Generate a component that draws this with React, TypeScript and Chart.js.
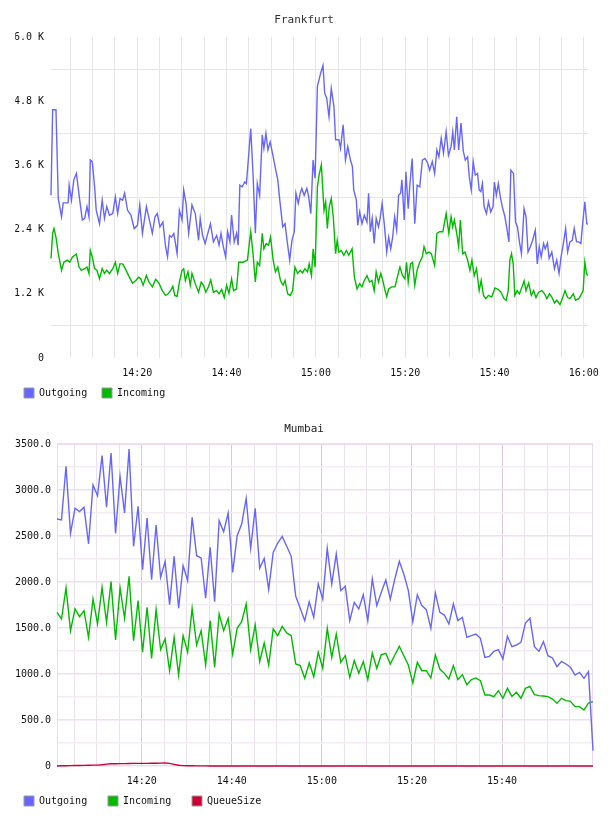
import React, { useEffect, useRef } from 'react';
import { Chart, registerables } from 'chart.js';

Chart.register(...registerables);

const FONT = "'DejaVu Sans Mono', monospace";
const BLUE = '#6666ff';
const GREEN = '#00bb00';
const RED = '#cc0033';

// ---------- Frankfurt (minutes after 14:00) ----------
const frankfurtOutgoingMin = [
  0.7, 1.07, 1.81, 2.33, 3.06, 3.43, 4.54, 4.76, 5.28, 5.8, 6.39, 7.13, 7.72, 8.24, 8.76, 9.2, 9.5, 9.94, 10.46, 10.83,
  11.56, 12.16, 12.67, 13.19, 13.78, 14.52, 15.11, 15.63, 16.15, 16.74, 17.18, 17.85, 18.59, 19.33, 20.06, 20.58, 21.17, 22.06, 22.65, 23.39,
  23.98, 24.5, 25.09, 25.75, 26.35, 26.79, 27.23, 27.68, 28.2, 28.93, 29.45, 30.04, 30.41, 30.93, 31.52, 32.26, 33.0, 33.74, 34.11, 34.63,
  35.22, 35.81, 36.4, 37.06, 37.8, 38.32, 38.76, 39.28, 39.8, 40.24, 40.76, 41.13, 41.72, 42.24, 42.61, 42.98, 43.49, 44.09, 44.45, 44.82,
  45.42, 45.93, 46.45, 46.89, 47.41, 48.0, 48.37, 48.82, 49.26, 49.78, 50.37, 50.96, 51.48, 51.92, 52.59, 53.1, 53.55, 54.14, 54.65, 55.17,
  55.54, 56.06, 56.5, 56.87, 57.39, 57.98, 58.35, 58.87, 59.38, 59.83, 60.35, 61.09, 61.6, 61.98, 62.42, 62.94, 63.45, 64.05, 64.42, 65.15,
  65.52, 66.11, 66.63, 67.15, 67.74, 68.18, 68.48, 69.07, 69.37, 69.81, 70.33, 70.85, 71.44, 71.81, 72.18, 72.62, 73.06, 73.51, 74.02, 74.39,
  74.84, 75.35, 75.87, 76.31, 76.76, 77.2, 77.64, 78.09, 78.53, 78.98, 79.27, 79.79, 80.16, 80.68, 81.04, 81.56, 82.15, 82.67, 83.26, 83.85,
  84.44, 85.04, 85.48, 86.07, 86.59, 87.1, 87.55, 88.07, 88.58, 89.17, 89.69, 90.28, 90.65, 91.02, 91.54, 91.98, 92.5, 93.02, 93.46, 93.98,
  94.35, 94.79, 95.23, 95.68, 96.2, 96.57, 96.93, 97.3, 97.67, 98.19, 98.64, 99.15, 99.67, 99.97, 100.41, 100.85, 101.37, 101.74, 102.33, 102.77,
  103.22, 103.66, 104.25, 104.7, 105.14, 105.58, 106.03, 106.62, 107.06, 107.5, 108.02, 108.54, 109.13, 109.57, 110.02, 110.46, 110.98, 111.35, 111.86, 112.24,
  112.83, 113.42, 113.93, 114.45, 114.9, 115.41, 115.93, 116.37, 116.89, 117.41, 117.85, 118.37, 118.89, 119.33, 119.7, 120.22, 120.66, 120.9,
];
const frankfurtOutgoing = [
  3040, 4640, 4640, 2980, 2640, 2900, 2900, 3230, 2950, 3330, 3450, 2950, 2580, 2610, 2830, 2640, 3700, 3670, 3200, 2760,
  2510, 2950, 2610, 2830, 2670, 2700, 3010, 2700, 2980, 2950, 3080, 2760, 2670, 2420, 2480, 2860, 2330, 2830, 2610, 2330,
  2640, 2700, 2450, 2540, 2080, 1890, 2290, 2260, 2330, 1950, 2760, 2580, 3140, 2890, 2330, 2860, 2700, 2200, 2610, 2290,
  2140, 2330, 2510, 2170, 2290, 2110, 2330, 2080, 1890, 2360, 2170, 2670, 2170, 2330, 2110, 3230, 3200, 3290, 3260, 3640,
  4290, 3450, 2330, 3260, 3040, 4170, 3920, 4200, 3890, 4040, 3790, 3540, 3330, 2950, 2450, 2510, 2200, 1830, 2200, 2360,
  3080, 2890, 3080, 3170, 3040, 3170, 3040, 2700, 3700, 3360, 5080, 5330, 5470, 4950, 4860, 4510, 5040, 4700, 4080, 4080,
  3920, 4360, 3700, 3950, 3700, 3580, 3140, 2950, 2480, 2730, 2510, 2670, 2540, 3080, 2360, 2610, 2140, 2610, 2450, 2610,
  2890, 2480, 1980, 2260, 2040, 2260, 2640, 2390, 3040, 3080, 3330, 2580, 3480, 2790, 3230, 3730, 2510, 3230, 3200, 3700,
  3730, 3640, 3510, 3670, 3450, 3890, 3760, 4110, 3830, 4230, 3790, 3950, 4230, 3890, 4510, 3890, 4390, 3860, 3700, 3760,
  3390, 3140, 3670, 3420, 3450, 3140, 3110, 3260, 2830, 2700, 2920, 2730, 2830, 3290, 3040, 3260, 2980, 2830, 2640, 2420,
  2170, 3510, 3450, 2540, 2450, 2170, 1950, 2790, 2640, 1980, 2080, 2200, 2390, 1760, 2080, 1890, 2140, 2040, 2150, 1860,
  1980, 1670, 1830, 1580, 1890, 2140, 2420, 1980, 2170, 2200, 2420, 2170, 2170, 2140, 2480, 2920, 2510, 2500,
];
const frankfurtIncomingMin = [
  0.7, 1.07, 1.37, 1.81, 2.33, 3.06, 3.58, 4.32, 4.91, 5.5, 6.39, 6.98, 7.5, 8.24, 8.76, 9.2, 9.5, 9.94, 10.46, 10.97,
  11.56, 12.16, 12.67, 13.19, 13.78, 14.52, 15.11, 15.63, 16.15, 16.74, 17.33, 18.07, 18.96, 19.69, 20.29, 20.8, 21.32, 22.06, 22.65, 23.39,
  24.13, 24.87, 25.61, 26.35, 26.94, 27.46, 27.97, 28.42, 28.93, 29.45, 30.04, 30.41, 30.78, 31.37, 31.89, 32.26, 33.0, 33.74, 34.33, 34.85,
  35.36, 35.95, 36.47, 37.06, 37.8, 38.32, 38.91, 39.5, 40.02, 40.54, 41.13, 41.57, 42.24, 42.75, 43.72, 44.68, 45.42, 45.93, 46.45, 46.89,
  47.41, 48.0, 48.37, 48.89, 49.41, 49.85, 50.44, 50.96, 51.48, 52.07, 52.66, 53.1, 53.69, 54.28, 54.8, 55.32, 55.91, 56.5, 57.02, 57.54,
  58.13, 58.5, 59.02, 59.39, 59.83, 60.35, 60.72, 61.23, 61.83, 62.2, 62.57, 63.01, 63.45, 63.9, 64.42, 64.78, 65.15, 65.67, 66.26, 66.85,
  67.37, 68.11, 68.63, 69.22, 69.81, 70.33, 70.85, 71.44, 72.03, 72.55, 73.06, 73.51, 74.02, 74.54, 74.98, 75.5, 75.87, 76.31, 76.98, 77.72,
  78.24, 78.83, 79.42, 79.94, 80.31, 80.68, 81.19, 81.64, 82.15, 82.67, 83.26, 83.85, 84.22, 84.74, 85.33, 85.85, 86.59, 87.1, 87.7, 88.44,
  89.17, 89.77, 90.28, 90.65, 91.02, 91.54, 91.98, 92.35, 92.87, 93.39, 93.98, 94.5, 94.94, 95.46, 95.97, 96.57, 97.01, 97.53, 98.05, 98.64,
  99.37, 100.11, 100.85, 101.44, 102.11, 102.63, 103.07, 103.44, 103.81, 104.18, 104.55, 105.07, 105.58, 106.17, 106.62, 107.06, 107.65, 108.24, 108.76, 109.28,
  109.87, 110.61, 111.2, 111.72, 112.31, 112.83, 113.42, 113.93, 114.67, 115.19, 115.78, 116.37, 116.89, 117.63, 118.15, 118.89, 119.48, 119.85, 120.22, 120.59,
  120.9,
];
const frankfurtIncoming = [
  1860, 2330, 2420, 2260, 1950, 1640, 1790, 1830, 1790, 1890, 1940, 1700, 1640, 1670, 1700, 1580, 2010, 1890, 1670, 1640,
  1480, 1670, 1580, 1640, 1580, 1670, 1790, 1580, 1760, 1760, 1670, 1540, 1400, 1450, 1510, 1480, 1360, 1540, 1420, 1330,
  1470, 1400, 1260, 1170, 1200, 1260, 1340, 1170, 1150, 1420, 1640, 1670, 1450, 1610, 1360, 1580, 1390, 1230, 1420, 1360,
  1230, 1330, 1460, 1230, 1260, 1200, 1280, 1130, 1360, 1210, 1480, 1260, 1290, 1790, 1790, 1830, 2360, 1950, 1420, 1790,
  1730, 2330, 2040, 2140, 2110, 2260, 1830, 1610, 1700, 1450, 1360, 1450, 1200, 1170, 1260, 1700, 1580, 1640, 1590, 1670,
  1610, 1760, 1540, 2040, 1700, 3200, 3420, 3610, 2760, 2920, 2420, 2830, 2980, 2640, 1950, 2200, 1980, 2010, 1920, 2010,
  1920, 2040, 1510, 1290, 1390, 1330, 1450, 1540, 1420, 1450, 1260, 1610, 1420, 1580, 1450, 1260, 1150, 1290, 1330, 1330,
  1510, 1700, 1540, 1480, 1790, 1420, 1760, 1790, 1360, 1640, 1790, 1890, 2080, 1950, 1980, 1950, 1730, 2330, 2360, 2360,
  2700, 2330, 2640, 2450, 2580, 2330, 2080, 2580, 1950, 1980, 1830, 1640, 1830, 1540, 1670, 1260, 1450, 1170, 1110, 1170,
  1140, 1310, 1280, 1230, 1110, 1080, 1260, 1830, 1950, 1760, 1170, 1260, 1200, 1330, 1440, 1260, 1400, 1170, 1260, 1130,
  1230, 1260, 1200, 1110, 1200, 1140, 1030, 1080, 1000, 1110, 1260, 1130, 1110, 1200, 1080, 1110, 1200, 1260, 1790, 1580,
  1540,
];

// ---------- Mumbai (one sample per minute) ----------
const mumbaiStartMin = 1.2;
const mumbaiStepMin = 1;
const mumbaiOutgoing = [
  2685, 2674, 3257, 2529, 2801, 2765, 2812, 2413, 3054, 2938,
  3373, 2812, 3402, 2529, 3149, 2750, 3446, 2388, 2822, 2134,
  2696, 2025, 2620, 2051, 2221, 1754, 2279, 1714, 2178, 2015,
  2703, 2286, 2261, 1823, 2377, 1786, 2667, 2547, 2750, 2105,
  2504, 2630, 2909, 2366, 2801, 2149, 2257, 1917, 2322, 2424,
  2496, 2388, 2279, 1844, 1714, 1580, 1786, 1616, 1978, 1815,
  2366, 1978, 2304, 1906, 1953, 1580, 1779, 1707, 1862, 1580,
  2033, 1743, 1888, 2022, 1815, 2033, 2225, 2087, 1906, 1569,
  1862, 1743, 1699, 1496, 1881, 1670, 1641, 1544, 1761, 1580,
  1616, 1399, 1417, 1435, 1388, 1181, 1192, 1246, 1265, 1163,
  1410, 1297, 1315, 1344, 1554, 1605, 1297, 1246, 1352, 1199,
  1174, 1080, 1138, 1109, 1073, 989, 1018, 953, 1025, 167,
];
const mumbaiIncoming = [
  1670, 1598, 1935, 1471, 1707, 1623, 1688, 1399, 1815, 1544,
  1942, 1562, 2004, 1370, 1935, 1605, 2062, 1362, 1797, 1236,
  1725, 1170, 1699, 1265, 1381, 1036, 1399, 989, 1417, 1236,
  1714, 1315, 1471, 1098, 1580, 1073, 1652, 1471, 1605, 1217,
  1496, 1569, 1761, 1265, 1533, 1134, 1337, 1098, 1489, 1417,
  1518, 1446, 1417, 1109, 1091, 953, 1120, 971, 1236, 1062,
  1496, 1181, 1435, 1127, 1199, 964, 1145, 1007, 1134, 939,
  1228, 1062, 1210, 1225, 1109, 1207, 1301, 1199, 1098, 902,
  1127, 1036, 1036, 957, 1207, 1054, 1007, 946, 1091, 939,
  993, 884, 939, 957, 928, 772, 772, 754, 819, 736,
  844, 757, 801, 736, 844, 866, 775, 765, 761, 754,
  728, 681, 736, 710, 703, 645, 645, 609, 685, 699,
];
const mumbaiQueueSize = [
  0, 2, 3, 4, 5, 6, 7, 8, 9, 10,
  14, 20, 24, 25, 26, 26, 27, 28, 28, 29,
  29, 30, 30, 31, 32, 28, 18, 8, 4, 2,
  2, 1, 1, 1, 0, 0, 0, 0, 0, 0,
  0, 0, 0, 0, 0, 0, 0, 0, 0, 0,
  0, 0, 0, 0, 0, 0, 0, 0, 0, 0,
  0, 0, 0, 0, 0, 0, 0, 0, 0, 0,
  0, 0, 0, 0, 0, 0, 0, 0, 0, 0,
  0, 0, 0, 0, 0, 0, 0, 0, 0, 0,
  0, 0, 0, 0, 0, 0, 0, 0, 0, 0,
  0, 0, 0, 0, 0, 0, 0, 0, 0, 0,
  0, 0, 0, 0, 0, 0, 0, 0, 0, 0,
];

const fmtTime = (m: number) => {
  const h = 14 + Math.floor(m / 60);
  const mm = Math.round(m % 60);
  return `${h}:${String(mm).padStart(2, '0')}`;
};

const pairs = (xs: number[], ys: number[]) => xs.map((x, i) => ({ x, y: ys[i] }));
const mumbaiSeries = (ys: number[]) => ys.map((y, i) => ({ x: mumbaiStartMin + i * mumbaiStepMin, y }));

// trailing spaces widen each legend entry so the gap between entries matches
const legendLabels = (padding: number, gap: string) => ({
  boxWidth: 10,
  boxHeight: 10,
  padding,
  color: '#111',
  font: { family: FONT, size: 10 },
  generateLabels: (chart: any) =>
    (Chart as any).defaults.plugins.legend.labels
      .generateLabels(chart)
      .map((l: any) => ({ ...l, text: l.text + gap, strokeStyle: '#999999', lineWidth: 1 })),
});

const lineDs = (label: string, data: any[], color: string) => ({
  label,
  data,
  borderColor: color,
  backgroundColor: color,
  borderWidth: 1.4,
  pointRadius: 0,
  pointHoverRadius: 0,
  tension: 0,
  clip: 3,
});

const frameOf = (color: string) => ({
  id: 'frame',
  beforeDatasetsDraw(chart: any) {
    const { ctx, chartArea: a } = chart;
    ctx.save();
    ctx.strokeStyle = color;
    ctx.lineWidth = 1;
    ctx.strokeRect(Math.round(a.left) + 0.5, Math.round(a.top) + 0.5, Math.round(a.width) - 1, Math.round(a.height) - 1);
    ctx.restore();
  },
});

const frankfurtConfig = (): any => ({
  type: 'line',
  data: {
    datasets: [
      lineDs('Outgoing', pairs(frankfurtOutgoingMin, frankfurtOutgoing), BLUE),
      lineDs('Incoming', pairs(frankfurtIncomingMin, frankfurtIncoming), GREEN),
    ],
  },
  options: {
    responsive: false,
    animation: false,
    devicePixelRatio: 1,
    events: [],
    layout: { padding: { left: 15.2, right: 15, top: 0, bottom: 0 } },
    plugins: {
      title: {
        display: true,
        text: 'Frankfurt',
        color: '#333',
        font: { family: FONT, size: 11, weight: 'normal' },
        padding: { top: 13.4, bottom: 10.4 },
      },
      legend: { position: 'bottom', align: 'start', labels: legendLabels(8.8, ' ') },
      tooltip: { enabled: false },
    },
    scales: {
      x: {
        type: 'linear',
        min: 0.7,
        max: 120.9,
        grid: { color: '#e6e6e6', drawTicks: false },
        border: { display: false },
        ticks: {
          stepSize: 5,
          includeBounds: false,
          autoSkip: false,
          maxRotation: 0,
          padding: 9,
          color: '#111',
          font: { family: FONT, size: 10 },
          callback: (v: number) => (v % 20 === 0 ? fmtTime(v) : ''),
        },
        afterFit: (s: any) => { s.height = 21.2; },
      },
      y: {
        min: 0,
        max: 6000,
        grid: {
          color: (c: any) => (c.tick && c.tick.value % 1200 === 0 ? 'rgba(0,0,0,0)' : '#e6e6e6'),
          drawTicks: false,
        },
        border: { display: false },
        ticks: {
          stepSize: 600,
          autoSkip: false,
          padding: 7,
          color: '#111',
          font: { family: FONT, size: 10 },
          callback: (v: number) => (v % 1200 === 0 ? (v === 0 ? '0' : (v / 1000).toFixed(1) + ' K') : ''),
        },
        afterFit: (s: any) => { s.width = 35.8; },
      },
    },
  },
});

const mumbaiConfig = (): any => ({
  type: 'line',
  data: {
    datasets: [
      lineDs('Outgoing', mumbaiSeries(mumbaiOutgoing), BLUE),
      lineDs('Incoming', mumbaiSeries(mumbaiIncoming), GREEN),
      lineDs('QueueSize', mumbaiSeries(mumbaiQueueSize), RED),
    ],
  },
  options: {
    responsive: false,
    animation: false,
    devicePixelRatio: 1,
    events: [],
    layout: { padding: { left: 15.2, right: 15, top: 0, bottom: 0 } },
    plugins: {
      title: {
        display: true,
        text: 'Mumbai',
        color: '#222',
        font: { family: FONT, size: 11, weight: 'normal' },
        padding: { top: 14.4, bottom: 8.4 },
      },
      legend: { position: 'bottom', align: 'start', labels: legendLabels(8.8, '  ') },
      tooltip: { enabled: false },
    },
    scales: {
      x: {
        type: 'linear',
        min: 1.2,
        max: 120.2,
        grid: {
          color: (c: any) => {
            const v = c.tick ? c.tick.value : 0;
            if (v >= 120) return 'rgba(0,0,0,0)';
            return v % 20 === 0 ? '#dcc8dc' : '#ebe2eb';
          },
          drawTicks: false,
        },
        border: { display: false },
        ticks: {
          stepSize: 5,
          includeBounds: false,
          autoSkip: false,
          maxRotation: 0,
          padding: 9.5,
          color: '#111',
          font: { family: FONT, size: 10 },
          callback: (v: number) => (v % 20 === 0 && v < 120 ? fmtTime(v) : ''),
        },
        afterFit: (s: any) => { s.height = 21.2; },
      },
      y: {
        min: 0,
        max: 3500,
        grid: {
          color: (c: any) => (c.tick && c.tick.value % 500 === 0 ? '#efe0ef' : '#f4eef4'),
          lineWidth: 1.5,
          drawTicks: false,
        },
        border: { display: false },
        ticks: {
          stepSize: 250,
          autoSkip: false,
          padding: 6,
          color: '#111',
          font: { family: FONT, size: 10 },
          callback: (v: number) => (v % 500 === 0 ? (v === 0 ? '0' : v.toFixed(1)) : ''),
        },
        afterFit: (s: any) => { s.width = 41.8; },
      },
    },
  },
  plugins: [frameOf('#ecdaec')],
});

function ChartCanvas({ makeConfig, width, height }: { makeConfig: () => any; width: number; height: number }) {
  const ref = useRef<HTMLCanvasElement | null>(null);
  useEffect(() => {
    if (!ref.current) return;
    const chart = new Chart(ref.current, makeConfig());
    return () => chart.destroy();
  }, [makeConfig]);
  return <canvas ref={ref} width={width} height={height} style={{ display: 'block', width, height }} />;
}

export default function App() {
  return (
    <div style={{ position: 'absolute', left: 0, top: 0, width: 608, height: 816, background: '#ffffff' }}>
      <ChartCanvas makeConfig={frankfurtConfig} width={608} height={408} />
      <ChartCanvas makeConfig={mumbaiConfig} width={608} height={408} />
    </div>
  );
}
